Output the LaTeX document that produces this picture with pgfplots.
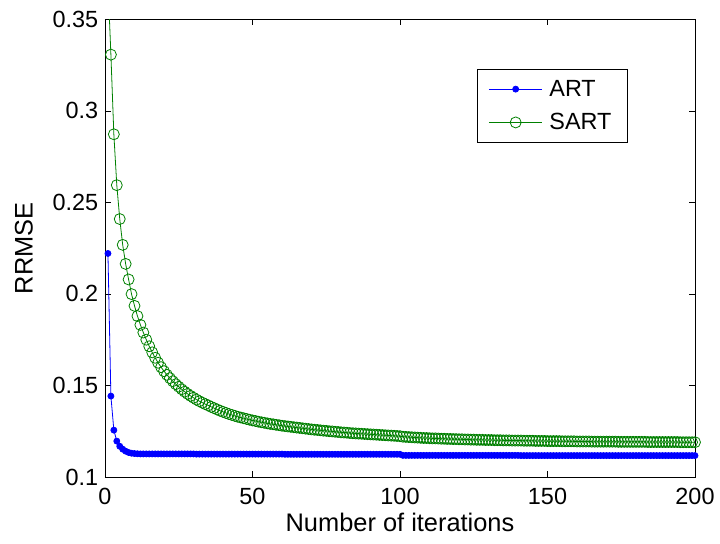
\documentclass[border=0pt]{standalone}
\usepackage{fontspec}
\setmainfont{Liberation Sans}
\usepackage{pgfplots}
\pgfplotsset{compat=1.18}
\definecolor{mgreen}{rgb}{0,0.5,0}
\begin{document}
\begin{tikzpicture}
\begin{axis}[
  scale only axis, width=590bp, height=457.7bp,
  xmin=0, xmax=200, ymin=0.1, ymax=0.35,
  xtick={0,50,100,150,200},
  xticklabels={0,50,100,150,200},
  ytick={0.1,0.15,0.2,0.25,0.3,0.35},
  yticklabels={0.1,0.15,0.2,0.25,0.3,0.35},
  tick align=inside, major tick length=6bp,
  axis line style={black,line width=0.8bp},
  every tick/.style={black,line width=0.6bp},
  font=\fontsize{23.5}{28}\selectfont,
  /pgf/number format/assume math mode=true,
  yticklabel style={inner sep=0pt, anchor=east, xshift=-6.7bp},
  xticklabel style={inner sep=0pt, anchor=north, yshift=-11bp},
  xlabel={Number of iterations},
  ylabel={RRMSE},
  xlabel style={at={(axis description cs:0.5,-0.0787)}, anchor=north, inner sep=0pt, font=\fontsize{25.5}{30}\selectfont},
  ylabel style={at={(axis description cs:-0.122,0.5)}, anchor=south, inner sep=0pt, font=\fontsize{25.5}{30}\selectfont},
  clip mode=individual,
  clip marker paths=false,
  legend cell align=left,
  legend image code/.code={\draw[mark repeat=2,mark phase=2] plot coordinates {(0bp,0bp)(26.7bp,0bp)(53.4bp,0bp)};},
  legend style={at={(0.631,0.891)}, anchor=north west, draw=black, line width=0.6bp, fill=white,
    inner xsep=11bp, inner ysep=3bp, row sep=0bp, column sep=6.6bp,
    nodes={inner sep=0pt, minimum height=33.3bp, text width=67bp, align=left},
    font=\fontsize{23.5}{28}\selectfont},
]
% ART
\addplot[color=blue, line width=0.8bp, mark=*, mark size=3bp, mark options={solid}] coordinates {
(1,0.2221)(2,0.1442)(3,0.1256)(4,0.1196)(5,0.1168)(6,0.1152)(7,0.1141)(8,0.1134)(9,0.1130)(10,0.1128)
(11,0.1127)(12,0.1126)(13,0.1126)(14,0.1126)(15,0.1126)(16,0.1126)(17,0.1126)(18,0.1126)(19,0.1126)(20,0.1126)
(21,0.1126)(22,0.1126)(23,0.1126)(24,0.1126)(25,0.1126)(26,0.1126)(27,0.1126)(28,0.1126)(29,0.1126)(30,0.1126)
(31,0.1125)(32,0.1125)(33,0.1125)(34,0.1125)(35,0.1125)(36,0.1125)(37,0.1125)(38,0.1125)(39,0.1125)(40,0.1125)
(41,0.1125)(42,0.1125)(43,0.1125)(44,0.1125)(45,0.1125)(46,0.1125)(47,0.1125)(48,0.1125)(49,0.1125)(50,0.1125)
(51,0.1125)(52,0.1125)(53,0.1125)(54,0.1125)(55,0.1125)(56,0.1125)(57,0.1125)(58,0.1125)(59,0.1125)(60,0.1125)
(61,0.1124)(62,0.1124)(63,0.1124)(64,0.1124)(65,0.1124)(66,0.1124)(67,0.1124)(68,0.1124)(69,0.1124)(70,0.1124)
(71,0.1124)(72,0.1124)(73,0.1124)(74,0.1124)(75,0.1124)(76,0.1124)(77,0.1124)(78,0.1124)(79,0.1124)(80,0.1124)
(81,0.1124)(82,0.1124)(83,0.1124)(84,0.1124)(85,0.1124)(86,0.1124)(87,0.1124)(88,0.1124)(89,0.1124)(90,0.1124)
(91,0.1124)(92,0.1124)(93,0.1124)(94,0.1124)(95,0.1124)(96,0.1124)(97,0.1124)(98,0.1124)(99,0.1124)(100,0.1124)
(101,0.1118)(102,0.1118)(103,0.1118)(104,0.1118)(105,0.1118)(106,0.1118)(107,0.1118)(108,0.1118)(109,0.1118)(110,0.1118)
(111,0.1118)(112,0.1118)(113,0.1118)(114,0.1118)(115,0.1118)(116,0.1118)(117,0.1118)(118,0.1118)(119,0.1118)(120,0.1118)
(121,0.1118)(122,0.1118)(123,0.1118)(124,0.1118)(125,0.1118)(126,0.1118)(127,0.1118)(128,0.1118)(129,0.1118)(130,0.1118)
(131,0.1118)(132,0.1118)(133,0.1118)(134,0.1118)(135,0.1118)(136,0.1118)(137,0.1118)(138,0.1118)(139,0.1118)(140,0.1118)
(141,0.1117)(142,0.1117)(143,0.1117)(144,0.1117)(145,0.1117)(146,0.1117)(147,0.1117)(148,0.1117)(149,0.1117)(150,0.1117)
(151,0.1117)(152,0.1117)(153,0.1117)(154,0.1117)(155,0.1117)(156,0.1117)(157,0.1117)(158,0.1117)(159,0.1117)(160,0.1117)
(161,0.1117)(162,0.1117)(163,0.1117)(164,0.1117)(165,0.1117)(166,0.1117)(167,0.1117)(168,0.1117)(169,0.1117)(170,0.1117)
(171,0.1117)(172,0.1117)(173,0.1117)(174,0.1117)(175,0.1117)(176,0.1117)(177,0.1117)(178,0.1117)(179,0.1117)(180,0.1117)
(181,0.1117)(182,0.1117)(183,0.1117)(184,0.1117)(185,0.1117)(186,0.1117)(187,0.1117)(188,0.1117)(189,0.1117)(190,0.1117)
(191,0.1117)(192,0.1117)(193,0.1117)(194,0.1117)(195,0.1117)(196,0.1117)(197,0.1117)(198,0.1117)(199,0.1117)(200,0.1117)
};
\addlegendentry{ART}
% SART (the first iterate lies above the plotted range)
\addplot[color=mgreen, line width=0.8bp, mark=o, mark size=5.5bp, mark options={solid}] coordinates {
(1,0.3700)(2,0.3307)(3,0.2872)(4,0.2594)(5,0.2409)(6,0.2268)(7,0.2164)(8,0.2079)(9,0.1999)(10,0.1935)
(11,0.1879)(12,0.1831)(13,0.1789)(14,0.1750)(15,0.1714)(16,0.1681)(17,0.1651)(18,0.1624)(19,0.1600)(20,0.1578)
(21,0.1558)(22,0.1540)(23,0.1523)(24,0.1507)(25,0.1493)(26,0.1479)(27,0.1466)(28,0.1454)(29,0.1443)(30,0.1433)
(31,0.1423)(32,0.1414)(33,0.1406)(34,0.1398)(35,0.1391)(36,0.1383)(37,0.1376)(38,0.1369)(39,0.1362)(40,0.1356)
(41,0.1350)(42,0.1344)(43,0.1339)(44,0.1334)(45,0.1329)(46,0.1325)(47,0.1321)(48,0.1317)(49,0.1313)(50,0.1309)
(51,0.1306)(52,0.1302)(53,0.1299)(54,0.1296)(55,0.1293)(56,0.1290)(57,0.1288)(58,0.1285)(59,0.1283)(60,0.1280)
(61,0.1278)(62,0.1276)(63,0.1274)(64,0.1272)(65,0.1270)(66,0.1268)(67,0.1266)(68,0.1264)(69,0.1262)(70,0.1260)
(71,0.1258)(72,0.1257)(73,0.1255)(74,0.1253)(75,0.1252)(76,0.1250)(77,0.1249)(78,0.1247)(79,0.1246)(80,0.1244)
(81,0.1243)(82,0.1242)(83,0.1240)(84,0.1239)(85,0.1238)(86,0.1237)(87,0.1236)(88,0.1235)(89,0.1234)(90,0.1233)
(91,0.1232)(92,0.1231)(93,0.1230)(94,0.1229)(95,0.1228)(96,0.1227)(97,0.1226)(98,0.1225)(99,0.1224)(100,0.1223)
(101,0.1220)(102,0.1219)(103,0.1218)(104,0.1217)(105,0.1216)(106,0.1215)(107,0.1214)(108,0.1213)(109,0.1213)(110,0.1212)
(111,0.1211)(112,0.1211)(113,0.1210)(114,0.1209)(115,0.1209)(116,0.1208)(117,0.1208)(118,0.1207)(119,0.1207)(120,0.1206)
(121,0.1206)(122,0.1205)(123,0.1205)(124,0.1204)(125,0.1204)(126,0.1203)(127,0.1203)(128,0.1203)(129,0.1202)(130,0.1202)
(131,0.1202)(132,0.1201)(133,0.1201)(134,0.1201)(135,0.1200)(136,0.1200)(137,0.1200)(138,0.1199)(139,0.1199)(140,0.1199)
(141,0.1199)(142,0.1198)(143,0.1198)(144,0.1198)(145,0.1198)(146,0.1197)(147,0.1197)(148,0.1197)(149,0.1197)(150,0.1196)
(151,0.1196)(152,0.1196)(153,0.1196)(154,0.1196)(155,0.1195)(156,0.1195)(157,0.1195)(158,0.1195)(159,0.1195)(160,0.1194)
(161,0.1194)(162,0.1194)(163,0.1194)(164,0.1194)(165,0.1193)(166,0.1193)(167,0.1193)(168,0.1193)(169,0.1193)(170,0.1193)
(171,0.1193)(172,0.1193)(173,0.1193)(174,0.1192)(175,0.1192)(176,0.1192)(177,0.1192)(178,0.1192)(179,0.1192)(180,0.1192)
(181,0.1192)(182,0.1192)(183,0.1192)(184,0.1191)(185,0.1191)(186,0.1191)(187,0.1191)(188,0.1191)(189,0.1191)(190,0.1191)
(191,0.1191)(192,0.1191)(193,0.1191)(194,0.1191)(195,0.1190)(196,0.1190)(197,0.1190)(198,0.1190)(199,0.1190)(200,0.1190)
};
\addlegendentry{SART}
\end{axis}
\pgfresetboundingbox
\path[use as bounding box] (-105bp,-67bp) rectangle (615bp,477bp);
\end{tikzpicture}
\end{document}
